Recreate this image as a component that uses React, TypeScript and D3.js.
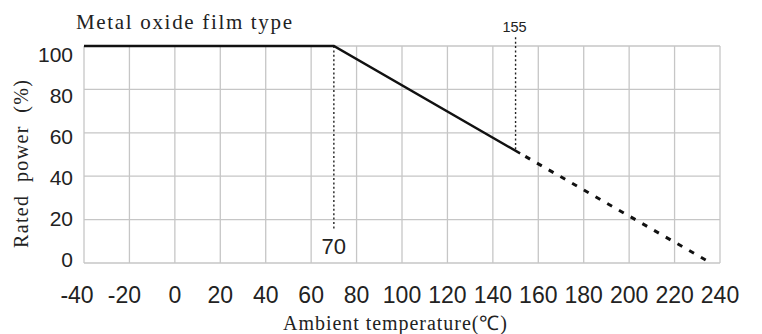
import React, { useEffect, useRef } from 'react';
import * as d3 from 'd3';

const xTicks = [-40, -20, 0, 20, 40, 60, 80, 100, 120, 140, 160, 180, 200, 220, 240];
const yTicks = [0, 20, 40, 60, 80, 100];

// derating curve
const ratedTemps = [-40, 70, 152];
const ratedPower = [100, 100, 50.5];
// extrapolated part of the curve (dashed)
const extraTemps = [152, 236];
const extraPower = [50.5, 0];

// dotted marker lines: where they stand, how far they run, what they say
const markerTemps = [70, 150];
const markerTop = [100, 104];
const markerBottom = [15, 51.7];
const markerLabels = ['70', '155'];

const W = 762;
const H = 334;

function DeratingChart() {
  const svgRef = useRef(null);

  useEffect(() => {
    const svg = d3.select(svgRef.current);
    svg.selectAll('*').remove();
    svg.attr('width', W).attr('height', H);

    svg.append('rect').attr('width', W).attr('height', H).attr('fill', '#fff');

    const x = d3.scaleLinear().domain([-40, 240]).range([84, 720]);
    const y = d3.scaleLinear().domain([0, 100]).range([263, 46]);
    // tick labels in the picture sit a little off the grid lines
    const yLabel = d3.scaleLinear().domain([0, 100]).range([267, 62]);

    const grid = svg.append('g')
      .attr('stroke', '#c6c6c6')
      .attr('stroke-width', 1.3);

    grid.selectAll('.v')
      .data(xTicks)
      .join('line')
      .attr('x1', d => x(d)).attr('x2', d => x(d))
      .attr('y1', y(0)).attr('y2', y(100));

    grid.selectAll('.h')
      .data(yTicks)
      .join('line')
      .attr('class', 'h')
      .attr('x1', x(-40)).attr('x2', x(240))
      .attr('y1', d => y(d)).attr('y2', d => y(d));

    // x tick labels (the first two sit a bit left of their grid lines)
    svg.append('g')
      .selectAll('text')
      .data(xTicks)
      .join('text')
      .attr('x', d => x(d) - (d === -40 ? 7 : d === -20 ? 5 : 0))
      .attr('y', 303)
      .attr('text-anchor', 'middle')
      .attr('font-family', '"Liberation Sans", Arial, sans-serif')
      .attr('font-size', 23)
      .attr('fill', '#222')
      .text(d => d);

    // y tick labels
    svg.append('g')
      .selectAll('text')
      .data(yTicks)
      .join('text')
      .attr('x', 73)
      .attr('y', d => yLabel(d))
      .attr('text-anchor', 'end')
      .attr('font-family', '"Liberation Sans", Arial, sans-serif')
      .attr('font-size', 21)
      .attr('fill', '#222')
      .text(d => d);

    // dotted markers
    markerTemps.forEach((t, i) => {
      svg.append('line')
        .attr('x1', x(t)).attr('x2', x(t))
        .attr('y1', y(markerTop[i])).attr('y2', y(markerBottom[i]))
        .attr('stroke', '#222')
        .attr('stroke-width', 1.4)
        .attr('stroke-dasharray', '2,2.4');
    });

    svg.append('text')
      .attr('x', x(markerTemps[0]))
      .attr('y', y(markerBottom[0]) + 24)
      .attr('text-anchor', 'middle')
      .attr('font-family', '"Liberation Sans", Arial, sans-serif')
      .attr('font-size', 22)
      .attr('fill', '#222')
      .text(markerLabels[0]);

    svg.append('text')
      .attr('x', x(markerTemps[1]) - 1)
      .attr('y', y(markerTop[1]) - 5)
      .attr('text-anchor', 'middle')
      .attr('font-family', '"Liberation Sans", Arial, sans-serif')
      .attr('font-size', 14.5)
      .attr('fill', '#222')
      .text(markerLabels[1]);

    const line = d3.line()
      .x(d => x(d[0]))
      .y(d => y(d[1]));

    svg.append('path')
      .datum(ratedTemps.map((t, i) => [t, ratedPower[i]]))
      .attr('d', line)
      .attr('fill', 'none')
      .attr('stroke', '#111')
      .attr('stroke-width', 2.5);

    svg.append('path')
      .datum(extraTemps.map((t, i) => [t, extraPower[i]]))
      .attr('d', line)
      .attr('fill', 'none')
      .attr('stroke', '#111')
      .attr('stroke-width', 3)
      .attr('stroke-dasharray', '5.5,8')
      .attr('stroke-dashoffset', -6);

    // titles
    svg.append('text')
      .attr('x', 76)
      .attr('y', 28.5)
      .attr('font-family', '"Liberation Serif", serif')
      .attr('font-size', 21)
      .attr('textLength', 216)
      .attr('fill', '#222')
      .text('Metal oxide film type');

    svg.append('text')
      .attr('x', 283)
      .attr('y', 330)
      .attr('font-family', '"Liberation Serif", serif')
      .attr('font-size', 20)
      .attr('textLength', 224)
      .attr('fill', '#222')
      .text('Ambient temperature(℃)');

    svg.append('text')
      .attr('transform', 'translate(28,164) rotate(-90)')
      .attr('text-anchor', 'middle')
      .attr('font-family', '"Liberation Serif", serif')
      .attr('font-size', 20)
      .attr('textLength', 168)
      .attr('fill', '#222')
      .style('white-space', 'pre')
      .text('Rated  power  (%)');
  }, []);

  return <svg ref={svgRef} style={{ position: 'absolute', left: 0, top: 0 }}></svg>;
}

export default function App() {
  return <DeratingChart />;
}
